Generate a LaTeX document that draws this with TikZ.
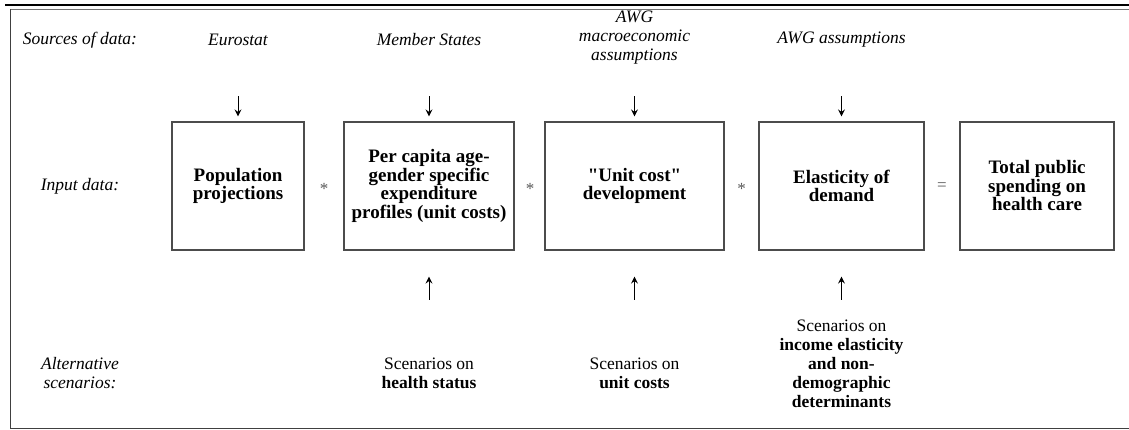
\documentclass[tikz,border=0pt]{standalone}
\usepackage{fontspec}
\setmainfont{Liberation Serif}
\newfontfamily\tms{Liberation Serif}
\usetikzlibrary{arrows.meta,calc}
\begin{document}
\begin{tikzpicture}[x=1pt,y=-1pt,
  every node/.style={inner sep=0pt},
  boxnode/.style={draw=black!70,line width=1.2pt,minimum height=128pt,align=center,
     font=\tms\fontsize{19}{18.5}\selectfont\bfseries},
  lbl/.style={align=center,font=\tms\fontsize{17.5}{19}\selectfont\itshape},
  src/.style={align=center,font=\tms\fontsize{17.5}{19}\selectfont\itshape},
  scen/.style={align=center,font=\tms\fontsize{17.5}{19}\selectfont},
  op/.style={font=\tms\fontsize{17}{17}\selectfont,text=black!65},
  arr/.style={line width=0.9pt,-{Stealth[length=7pt,width=7pt,inset=2.5pt]}}]
\useasboundingbox (0,0) rectangle (1129,430);
% frame
\draw[line width=2.2pt] (5,5) -- (1129,5);
\draw[line width=1pt,black!55] (10,9.5) -- (1129,9.5);
\draw[line width=1.3pt,black!75] (10.5,9.5) -- (10.5,428.8) -- (1129,428.8);
% boxes
\node[boxnode,minimum width=132pt] (b1) at (238,186) {Population\\projections};
\node[boxnode,minimum width=170pt] (b2) at (429,186) {Per capita age-\\gender specific\\expenditure\\profiles (unit costs)};
\node[boxnode,minimum width=179pt] (b3) at (634.5,186) {\textquotedbl Unit cost\textquotedbl\\development};
\node[boxnode,minimum width=165pt] (b4) at (841.5,186) {Elasticity of\\demand};
\node[boxnode,minimum width=154pt] (b5) at (1037,186) {Total public\\spending on\\health care};
% operators
\node[op] (o1) at (324,189) {*};
\node[op] (o2) at (530,189) {*};
\node[op] (o3) at (741.5,189) {*};
\node[op] (o4) at (942,187) {=};
% row labels
\node[lbl] (l1) at (80,40) {Sources of data:};
\node[lbl] (l2) at (80,186) {Input data:};
\node[lbl] (l3) at (80,373) {Alternative\\scenarios:};
% sources
\node[src] (s1) at (238,40) {Eurostat};
\node[src] (s2) at (429,40) {Member States};
\node[src] (s3) at (634.5,38) {AWG\\macroeconomic\\assumptions};
\node[src] (s4) at (841.5,40) {AWG assumptions};
% scenarios
\node[scen] (c2) at (429,373) {Scenarios on\\\textbf{health status}};
\node[scen] (c3) at (634.5,373) {Scenarios on\\\textbf{unit costs}};
\node[scen] (c4) at (841.5,364) {Scenarios on\\\textbf{income elasticity}\\\textbf{and non-}\\\textbf{demographic}\\\textbf{determinants}};
% down arrows
\foreach \b in {b1,b2,b3,b4}{
  \draw[arr] ($(\b.north)+(0,-25)$) -- ($(\b.north)+(0,-5)$);
}
% up arrows
\foreach \b in {b2,b3,b4}{
  \draw[arr] ($(\b.south)+(0,49)$) -- ($(\b.south)+(0,26)$);
}
\end{tikzpicture}
\end{document}
